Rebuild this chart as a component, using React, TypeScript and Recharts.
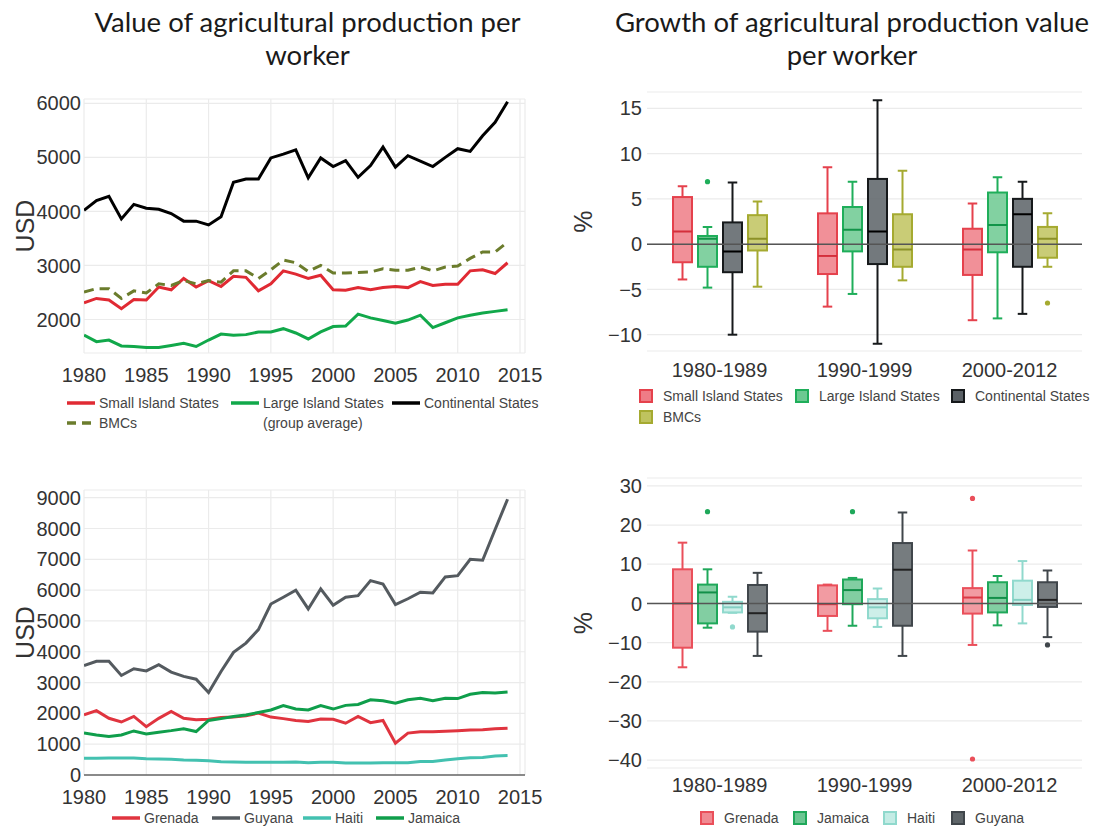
import React from 'react';
import {
  LineChart,
  Line,
  BarChart,
  Bar,
  XAxis,
  YAxis,
  CartesianGrid,
  ReferenceLine,
} from 'recharts';

// ---- value per worker, 1980-2014 (USD) ----
const years = [
  1980, 1981, 1982, 1983, 1984, 1985, 1986, 1987, 1988, 1989, 1990, 1991,
  1992, 1993, 1994, 1995, 1996, 1997, 1998, 1999, 2000, 2001, 2002, 2003,
  2004, 2005, 2006, 2007, 2008, 2009, 2010, 2011, 2012, 2013, 2014,
];
const yearTicks = [1980, 1985, 1990, 1995, 2000, 2005, 2010, 2015];

const smallIsland = [2310, 2390, 2360, 2200, 2370, 2360, 2600, 2550, 2760, 2600, 2720, 2610, 2800, 2780, 2530, 2660, 2900, 2840, 2760, 2820, 2550, 2540, 2590, 2550, 2590, 2610, 2590, 2700, 2630, 2650, 2650, 2900, 2920, 2850, 3050];
const largeIsland = [1710, 1590, 1620, 1510, 1500, 1480, 1480, 1520, 1560, 1500, 1620, 1730, 1710, 1720, 1770, 1770, 1830, 1750, 1640, 1770, 1870, 1880, 2100, 2030, 1980, 1930, 1990, 2080, 1850, 1940, 2030, 2080, 2120, 2150, 2180];
const continental = [4020, 4200, 4280, 3860, 4130, 4060, 4040, 3960, 3820, 3820, 3750, 3900, 4540, 4600, 4600, 4990, 5060, 5140, 4620, 4990, 4830, 4940, 4630, 4850, 5190, 4820, 5030, 4930, 4830, 5000, 5160, 5110, 5400, 5650, 6030];
const bmcs = [2510, 2570, 2570, 2390, 2530, 2490, 2660, 2630, 2720, 2660, 2720, 2690, 2900, 2900, 2760, 2920, 3100, 3050, 2890, 3000, 2860, 2860, 2870, 2880, 2940, 2910, 2910, 2970, 2900, 2970, 2990, 3130, 3250, 3250, 3430];

const grenada = [1950, 2090, 1840, 1720, 1900, 1570, 1840, 2060, 1840, 1790, 1810, 1870, 1880, 1920, 2010, 1880, 1830, 1770, 1740, 1820, 1810, 1680, 1900, 1700, 1770, 1030, 1360, 1400, 1400, 1420, 1440, 1460, 1470, 1500, 1520];
const guyana = [3550, 3690, 3690, 3230, 3450, 3380, 3580, 3340, 3200, 3110, 2680, 3360, 3980, 4280, 4720, 5550, 5770, 6000, 5390, 6040, 5510, 5770, 5820, 6310, 6200, 5530, 5720, 5930, 5910, 6430, 6470, 7000, 6970, 7970, 8950];
const haiti = [540, 540, 550, 550, 550, 530, 520, 510, 490, 480, 460, 430, 420, 410, 410, 410, 410, 420, 400, 410, 410, 390, 390, 390, 400, 400, 400, 440, 440, 490, 530, 560, 570, 620, 630];
const jamaica = [1360, 1300, 1250, 1300, 1430, 1330, 1390, 1440, 1500, 1410, 1770, 1830, 1900, 1950, 2030, 2110, 2250, 2140, 2110, 2250, 2140, 2260, 2290, 2440, 2410, 2330, 2440, 2490, 2410, 2490, 2480, 2620, 2680, 2660, 2690];

// ---- growth per worker (%), box stats: [low whisker, q1, median, q3, high whisker] ----
const periods = ['1980-1989', '1990-1999', '2000-2012'];

const smallIslandGrowth = [[-3.9, -2.0, 1.4, 5.2, 6.4], [-6.9, -3.3, -1.3, 3.4, 8.5], [-8.4, -3.4, -0.6, 1.7, 4.5]];
const smallIslandOut = [[], [], []];
const largeIslandGrowth = [[-4.8, -2.5, 0.6, 0.9, 1.9], [-5.5, -0.8, 1.6, 4.1, 6.9], [-8.2, -0.9, 2.1, 5.7, 7.4]];
const largeIslandOut = [[6.9], [], []];
const continentalGrowth = [[-10.0, -3.1, -0.8, 2.4, 6.8], [-11.0, -2.2, 1.4, 7.2, 15.9], [-7.7, -2.5, 3.3, 5.0, 6.9]];
const continentalOut = [[], [], []];
const bmcGrowth = [[-4.7, -0.7, 0.6, 3.2, 4.7], [-4.0, -2.5, -0.6, 3.3, 8.1], [-2.5, -1.5, 0.6, 1.9, 3.4]];
const bmcOut = [[], [], [-6.5]];

const grenadaGrowth = [[-16.3, -11.3, 0.0, 8.7, 15.5], [-7.0, -3.2, -0.2, 4.6, 4.8], [-10.6, -2.6, 1.5, 3.9, 13.5]];
const grenadaOut = [[], [], [26.8, -39.7]];
const jamaicaGrowth = [[-6.2, -5.1, 2.8, 4.8, 8.7], [-5.7, -0.2, 3.4, 6.1, 6.5], [-5.6, -2.3, 1.4, 5.4, 7.0]];
const jamaicaOut = [[23.4], [23.4], []];
const haitiGrowth = [[-2.4, -2.3, -1.0, 0.4, 1.7], [-6.0, -3.8, -1.0, 1.1, 3.8], [-5.1, -0.4, 0.9, 5.8, 10.8]];
const haitiOut = [[-6.0], [], []];
const guyanaGrowth = [[-13.4, -7.2, -2.5, 4.7, 7.8], [-13.4, -5.7, 8.6, 15.4, 23.2], [-8.6, -0.9, 0.9, 5.4, 8.4]];
const guyanaOut = [[], [], [-10.6]];

const valueRegions = years.map((year, i) => ({
  year,
  sis: smallIsland[i],
  lis: largeIsland[i],
  cont: continental[i],
  bmc: bmcs[i],
}));

const valueCountries = years.map((year, i) => ({
  year,
  grenada: grenada[i],
  guyana: guyana[i],
  haiti: haiti[i],
  jamaica: jamaica[i],
}));

const growthRegions = periods.map((period, i) => ({
  period,
  sis: { box: smallIslandGrowth[i], out: smallIslandOut[i] },
  lis: { box: largeIslandGrowth[i], out: largeIslandOut[i] },
  cont: { box: continentalGrowth[i], out: continentalOut[i] },
  bmc: { box: bmcGrowth[i], out: bmcOut[i] },
}));

const growthCountries = periods.map((period, i) => ({
  period,
  grenada: { box: grenadaGrowth[i], out: grenadaOut[i] },
  jamaica: { box: jamaicaGrowth[i], out: jamaicaOut[i] },
  haiti: { box: haitiGrowth[i], out: haitiOut[i] },
  guyana: { box: guyanaGrowth[i], out: guyanaOut[i] },
}));

const FONT = '"Liberation Sans", Arial, sans-serif';
const TITLE_FONT = 'Lato, "Open Sans", sans-serif';
const tickStyle = { fontSize: 20, fill: '#333', fontFamily: FONT };
const minus = (v: number) => String(v).replace('-', '\u2212');

type BoxStyle = { stroke: string; fill: string; median: string };

const C = {
  sis: { stroke: '#e5414c', fill: '#ef7c86', median: '#d42f3b' },
  lis: { stroke: '#1fae5a', fill: '#6cc991', median: '#129449' },
  cont: { stroke: '#16191b', fill: '#5b6166', median: '#000000' },
  bmc: { stroke: '#a5aa30', fill: '#bfc35e', median: '#8c9128' },
  grenada: { stroke: '#ea4f5a', fill: '#f08a92', median: '#d93a46' },
  jamaica: { stroke: '#1fa85a', fill: '#6cc692', median: '#128f49' },
  haiti: { stroke: '#90d9cd', fill: '#c4ece5', median: '#84cfc2' },
  guyana: { stroke: '#40464b', fill: '#5e6569', median: '#222222' },
};

// box drawn inside the range bar [low whisker, high whisker] that recharts positions
const boxShape = (key: string, st: BoxStyle) => (props: any) => {
  const { x, y, width, height, payload } = props;
  const s = payload[key];
  const [lo, q1, med, q3, hi] = s.box;
  const top = Math.min(y, y + height);
  const bottom = Math.max(y, y + height);
  const py = (v: number) => bottom - ((v - lo) / (hi - lo || 1)) * (bottom - top);
  const cx = x + width / 2;
  const cap = width * 0.25;
  return (
    <g>
      <line x1={cx} x2={cx} y1={py(hi)} y2={py(q3)} stroke={st.stroke} strokeWidth={2} />
      <line x1={cx} x2={cx} y1={py(q1)} y2={py(lo)} stroke={st.stroke} strokeWidth={2} />
      <line x1={cx - cap} x2={cx + cap} y1={py(hi)} y2={py(hi)} stroke={st.stroke} strokeWidth={2} />
      <line x1={cx - cap} x2={cx + cap} y1={py(lo)} y2={py(lo)} stroke={st.stroke} strokeWidth={2} />
      <rect
        x={x}
        y={py(q3)}
        width={width}
        height={Math.max(1, py(q1) - py(q3))}
        fill={st.fill}
        fillOpacity={0.85}
        stroke={st.stroke}
        strokeWidth={2}
      />
      <line x1={x} x2={x + width} y1={py(med)} y2={py(med)} stroke={st.median} strokeWidth={2} />
      {s.out.map((o: number, i: number) => (
        <circle key={i} cx={cx} cy={py(o)} r={2.6} fill={st.stroke} />
      ))}
    </g>
  );
};

const Title = ({ left, width, lines }: { left: number; width: number; lines: string[] }) => (
  <div
    style={{
      position: 'absolute',
      left,
      top: 5,
      width,
      textAlign: 'center',
      fontFamily: TITLE_FONT,
      fontSize: 27.5,
      lineHeight: '33px',
      color: '#1a1a1a',
    }}
  >
    {lines.map((l) => (
      <div key={l}>{l}</div>
    ))}
  </div>
);

const LineKey = ({ x, y, color, label, dash }: { x: number; y: number; color: string; label: string; dash?: string }) => (
  <div style={{ position: 'absolute', left: x, top: y - 9, height: 18, display: 'flex', alignItems: 'center' }}>
    <svg width={28} height={6} style={{ marginRight: 4 }}>
      <line x1={0} x2={28} y1={3} y2={3} stroke={color} strokeWidth={3.5} strokeDasharray={dash} />
    </svg>
    <span style={{ fontFamily: FONT, fontSize: 14, color: '#444' }}>{label}</span>
  </div>
);

const BoxKey = ({ x, y, st, label }: { x: number; y: number; st: BoxStyle; label: string }) => (
  <div style={{ position: 'absolute', left: x, top: y - 9, height: 18, display: 'flex', alignItems: 'center' }}>
    <svg width={14} height={14} style={{ marginRight: 10 }}>
      <rect x={1} y={1} width={12} height={12} fill={st.fill} stroke={st.stroke} strokeWidth={2} />
    </svg>
    <span style={{ fontFamily: FONT, fontSize: 14, color: '#444' }}>{label}</span>
  </div>
);

const Note = ({ x, y, text }: { x: number; y: number; text: string }) => (
  <div style={{ position: 'absolute', left: x, top: y - 9, height: 18, lineHeight: '18px', fontFamily: FONT, fontSize: 14, color: '#444' }}>
    {text}
  </div>
);

const axisTitle = (value: string, offset: number) => ({
  value,
  angle: -90,
  position: 'insideLeft' as const,
  offset,
  style: { textAnchor: 'middle' as const, fontSize: 25, fill: '#333', fontFamily: FONT },
});

export default function App() {
  return (
    <div style={{ position: 'absolute', left: 0, top: 0, width: 1103, height: 828, background: '#fff', overflow: 'hidden' }}>
      <Title left={70} width={475} lines={['Value of agricultural production per', 'worker']} />
      <Title left={582} width={540} lines={['Growth of agricultural production value', 'per worker']} />

      {/* top left: regional groups */}
      <div style={{ position: 'absolute', left: 0, top: 80 }}>
        <LineChart width={550} height={313} data={valueRegions} margin={{ top: 19, right: 25, bottom: 0, left: 0 }}>
          <CartesianGrid stroke="#ebebeb" strokeWidth={1.2} />
          <XAxis
            dataKey="year"
            type="number"
            domain={[1980, 2015.4]}
            ticks={yearTicks}
            allowDataOverflow
            axisLine={false}
            tickLine={false}
            tickSize={0}
            tickMargin={15}
            height={40}
            tick={tickStyle}
          />
          <YAxis
            type="number"
            domain={[1380, 6080]}
            ticks={[2000, 3000, 4000, 5000, 6000]}
            allowDataOverflow
            axisLine={false}
            tickLine={false}
            tickSize={0}
            tickMargin={3}
            width={84}
            tick={tickStyle}
            label={axisTitle('USD', 25)}
          />
          <Line dataKey="sis" stroke="#e02a33" strokeWidth={3} dot={false} isAnimationActive={false} />
          <Line dataKey="lis" stroke="#11a84a" strokeWidth={3} dot={false} isAnimationActive={false} />
          <Line dataKey="cont" stroke="#000000" strokeWidth={3} dot={false} isAnimationActive={false} />
          <Line dataKey="bmc" stroke="#6b7c2c" strokeWidth={3} strokeDasharray="10 6" dot={false} isAnimationActive={false} />
        </LineChart>
      </div>
      <LineKey x={67} y={403} color="#e02a33" label="Small Island States" />
      <LineKey x={231} y={403} color="#11a84a" label="Large Island States" />
      <LineKey x={392} y={403} color="#000000" label="Continental States" />
      <LineKey x={67} y={423} color="#6b7c2c" label="BMCs" dash="9 6" />
      <Note x={263} y={423} text="(group average)" />

      {/* bottom left: countries */}
      <div style={{ position: 'absolute', left: 0, top: 470 }}>
        <LineChart width={550} height={345} data={valueCountries} margin={{ top: 20, right: 25, bottom: 0, left: 0 }}>
          <CartesianGrid stroke="#ebebeb" strokeWidth={1.2} />
          <XAxis
            dataKey="year"
            type="number"
            domain={[1980, 2015.4]}
            ticks={yearTicks}
            allowDataOverflow
            axisLine={{ stroke: '#666', strokeWidth: 1.5 }}
            tickLine={false}
            tickSize={0}
            tickMargin={15}
            height={40}
            tick={tickStyle}
          />
          <YAxis
            type="number"
            domain={[0, 9250]}
            ticks={[0, 1000, 2000, 3000, 4000, 5000, 6000, 7000, 8000, 9000]}
            allowDataOverflow
            axisLine={false}
            tickLine={false}
            tickSize={0}
            tickMargin={3}
            width={84}
            tick={tickStyle}
            label={axisTitle('USD', 25)}
          />
          <Line dataKey="haiti" stroke="#43c1b0" strokeWidth={3} dot={false} isAnimationActive={false} />
          <Line dataKey="grenada" stroke="#e0343f" strokeWidth={3} dot={false} isAnimationActive={false} />
          <Line dataKey="jamaica" stroke="#0f9e4b" strokeWidth={3} dot={false} isAnimationActive={false} />
          <Line dataKey="guyana" stroke="#545a5f" strokeWidth={3} dot={false} isAnimationActive={false} />
        </LineChart>
      </div>
      <LineKey x={112} y={818} color="#e0343f" label="Grenada" />
      <LineKey x={212} y={818} color="#545a5f" label="Guyana" />
      <LineKey x={303} y={818} color="#43c1b0" label="Haiti" />
      <LineKey x={376} y={818} color="#0f9e4b" label="Jamaica" />

      {/* top right: growth by group */}
      <div style={{ position: 'absolute', left: 560, top: 80 }}>
        <BarChart width={543} height={311} data={growthRegions} margin={{ top: 12, right: 21, bottom: 0, left: 0 }} barSize={19} barGap={6}>
          <CartesianGrid stroke="#ebebeb" strokeWidth={1.2} vertical={false} />
          <XAxis dataKey="period" axisLine={false} tickLine={false} tickSize={0} tickMargin={12} height={40} tick={tickStyle} />
          <YAxis
            type="number"
            domain={[-11.8, 16.8]}
            ticks={[-10, -5, 0, 5, 10, 15]}
            allowDataOverflow
            axisLine={false}
            tickLine={false}
            tickSize={0}
            tickMargin={5}
            width={87}
            tick={tickStyle}
            tickFormatter={minus}
            label={axisTitle('%', 23)}
          />
          <ReferenceLine y={0} stroke="#555" strokeWidth={1.5} />
          <Bar dataKey={(d: any) => [d.sis.box[0], d.sis.box[4]]} name="Small Island States" shape={boxShape('sis', C.sis)} isAnimationActive={false} />
          <Bar dataKey={(d: any) => [d.lis.box[0], d.lis.box[4]]} name="Large Island States" shape={boxShape('lis', C.lis)} isAnimationActive={false} />
          <Bar dataKey={(d: any) => [d.cont.box[0], d.cont.box[4]]} name="Continental States" shape={boxShape('cont', C.cont)} isAnimationActive={false} />
          <Bar dataKey={(d: any) => [d.bmc.box[0], d.bmc.box[4]]} name="BMCs" shape={boxShape('bmc', C.bmc)} isAnimationActive={false} />
        </BarChart>
      </div>
      <BoxKey x={639} y={396} st={C.sis} label="Small Island States" />
      <BoxKey x={795} y={396} st={C.lis} label="Large Island States" />
      <BoxKey x={951} y={396} st={C.cont} label="Continental States" />
      <BoxKey x={639} y={417} st={C.bmc} label="BMCs" />

      {/* bottom right: growth by country */}
      <div style={{ position: 'absolute', left: 560, top: 470 }}>
        <BarChart width={543} height={338} data={growthCountries} margin={{ top: 8, right: 21, bottom: 0, left: 0 }} barSize={19} barGap={6}>
          <CartesianGrid stroke="#ebebeb" strokeWidth={1.2} vertical={false} />
          <XAxis dataKey="period" axisLine={false} tickLine={false} tickSize={0} tickMargin={10} height={40} tick={tickStyle} />
          <YAxis
            type="number"
            domain={[-42, 32]}
            ticks={[-40, -30, -20, -10, 0, 10, 20, 30]}
            allowDataOverflow
            axisLine={false}
            tickLine={false}
            tickSize={0}
            tickMargin={5}
            width={87}
            tick={tickStyle}
            tickFormatter={minus}
            label={axisTitle('%', 23)}
          />
          <ReferenceLine y={0} stroke="#555" strokeWidth={1.5} />
          <Bar dataKey={(d: any) => [d.grenada.box[0], d.grenada.box[4]]} name="Grenada" shape={boxShape('grenada', C.grenada)} isAnimationActive={false} />
          <Bar dataKey={(d: any) => [d.jamaica.box[0], d.jamaica.box[4]]} name="Jamaica" shape={boxShape('jamaica', C.jamaica)} isAnimationActive={false} />
          <Bar dataKey={(d: any) => [d.haiti.box[0], d.haiti.box[4]]} name="Haiti" shape={boxShape('haiti', C.haiti)} isAnimationActive={false} />
          <Bar dataKey={(d: any) => [d.guyana.box[0], d.guyana.box[4]]} name="Guyana" shape={boxShape('guyana', C.guyana)} isAnimationActive={false} />
        </BarChart>
      </div>
      <BoxKey x={700} y={818} st={C.grenada} label="Grenada" />
      <BoxKey x={793} y={818} st={C.jamaica} label="Jamaica" />
      <BoxKey x={883} y={818} st={C.haiti} label="Haiti" />
      <BoxKey x={951} y={818} st={C.guyana} label="Guyana" />
    </div>
  );
}
